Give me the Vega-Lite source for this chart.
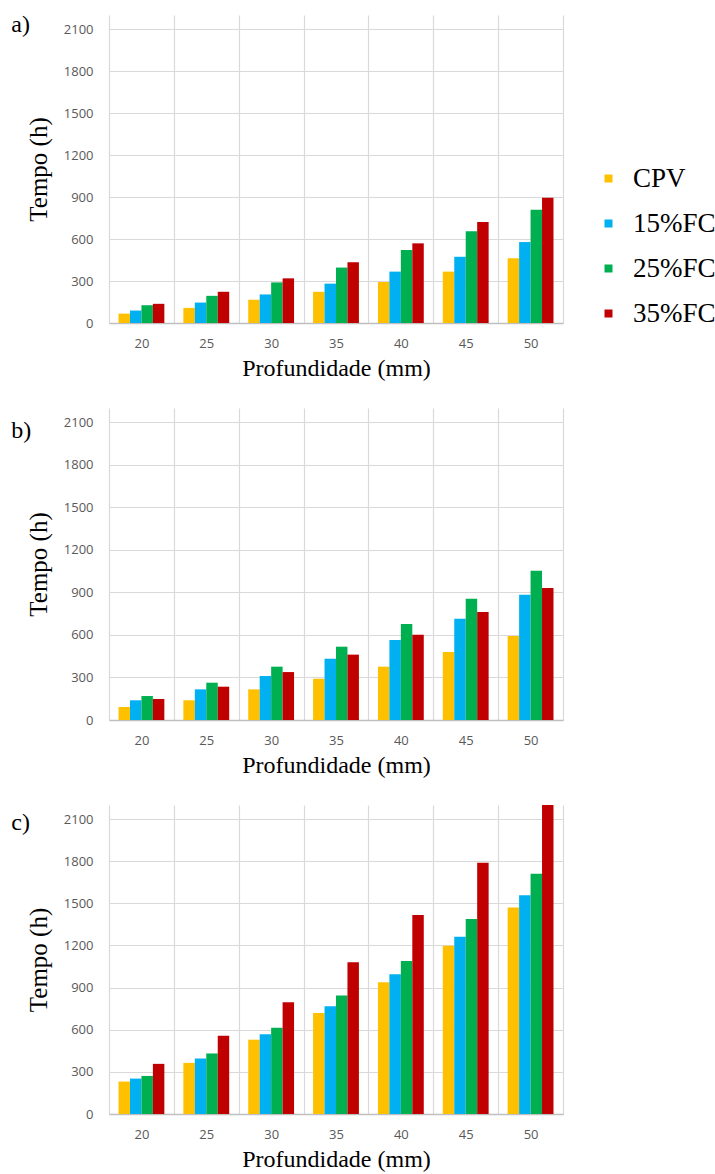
{
  "$schema": "https://vega.github.io/schema/vega-lite/v6.json",
  "background": "white",
  "padding": {"left": 11, "top": 13, "right": 160, "bottom": 5},
  "spacing": 28,
  "datasets": {
    "tempos": [
      {"painel": "a", "profundidade": 20, "serie": "CPV", "tempo": 67},
      {"painel": "a", "profundidade": 20, "serie": "15%FC", "tempo": 89},
      {"painel": "a", "profundidade": 20, "serie": "25%FC", "tempo": 127},
      {"painel": "a", "profundidade": 20, "serie": "35%FC", "tempo": 137},
      {"painel": "a", "profundidade": 25, "serie": "CPV", "tempo": 108},
      {"painel": "a", "profundidade": 25, "serie": "15%FC", "tempo": 146},
      {"painel": "a", "profundidade": 25, "serie": "25%FC", "tempo": 194},
      {"painel": "a", "profundidade": 25, "serie": "35%FC", "tempo": 223},
      {"painel": "a", "profundidade": 30, "serie": "CPV", "tempo": 166},
      {"painel": "a", "profundidade": 30, "serie": "15%FC", "tempo": 204},
      {"painel": "a", "profundidade": 30, "serie": "25%FC", "tempo": 290},
      {"painel": "a", "profundidade": 30, "serie": "35%FC", "tempo": 319},
      {"painel": "a", "profundidade": 35, "serie": "CPV", "tempo": 223},
      {"painel": "a", "profundidade": 35, "serie": "15%FC", "tempo": 281},
      {"painel": "a", "profundidade": 35, "serie": "25%FC", "tempo": 396},
      {"painel": "a", "profundidade": 35, "serie": "35%FC", "tempo": 434},
      {"painel": "a", "profundidade": 40, "serie": "CPV", "tempo": 293},
      {"painel": "a", "profundidade": 40, "serie": "15%FC", "tempo": 367},
      {"painel": "a", "profundidade": 40, "serie": "25%FC", "tempo": 521},
      {"painel": "a", "profundidade": 40, "serie": "35%FC", "tempo": 569},
      {"painel": "a", "profundidade": 45, "serie": "CPV", "tempo": 367},
      {"painel": "a", "profundidade": 45, "serie": "15%FC", "tempo": 473},
      {"painel": "a", "profundidade": 45, "serie": "25%FC", "tempo": 655},
      {"painel": "a", "profundidade": 45, "serie": "35%FC", "tempo": 722},
      {"painel": "a", "profundidade": 50, "serie": "CPV", "tempo": 463},
      {"painel": "a", "profundidade": 50, "serie": "15%FC", "tempo": 578},
      {"painel": "a", "profundidade": 50, "serie": "25%FC", "tempo": 809},
      {"painel": "a", "profundidade": 50, "serie": "35%FC", "tempo": 895},
      {"painel": "b", "profundidade": 20, "serie": "CPV", "tempo": 92},
      {"painel": "b", "profundidade": 20, "serie": "15%FC", "tempo": 139},
      {"painel": "b", "profundidade": 20, "serie": "25%FC", "tempo": 169},
      {"painel": "b", "profundidade": 20, "serie": "35%FC", "tempo": 148},
      {"painel": "b", "profundidade": 25, "serie": "CPV", "tempo": 139},
      {"painel": "b", "profundidade": 25, "serie": "15%FC", "tempo": 216},
      {"painel": "b", "profundidade": 25, "serie": "25%FC", "tempo": 263},
      {"painel": "b", "profundidade": 25, "serie": "35%FC", "tempo": 235},
      {"painel": "b", "profundidade": 30, "serie": "CPV", "tempo": 216},
      {"painel": "b", "profundidade": 30, "serie": "15%FC", "tempo": 310},
      {"painel": "b", "profundidade": 30, "serie": "25%FC", "tempo": 376},
      {"painel": "b", "profundidade": 30, "serie": "35%FC", "tempo": 338},
      {"painel": "b", "profundidade": 35, "serie": "CPV", "tempo": 291},
      {"painel": "b", "profundidade": 35, "serie": "15%FC", "tempo": 432},
      {"painel": "b", "profundidade": 35, "serie": "25%FC", "tempo": 517},
      {"painel": "b", "profundidade": 35, "serie": "35%FC", "tempo": 461},
      {"painel": "b", "profundidade": 40, "serie": "CPV", "tempo": 376},
      {"painel": "b", "profundidade": 40, "serie": "15%FC", "tempo": 564},
      {"painel": "b", "profundidade": 40, "serie": "25%FC", "tempo": 677},
      {"painel": "b", "profundidade": 40, "serie": "35%FC", "tempo": 602},
      {"painel": "b", "profundidade": 45, "serie": "CPV", "tempo": 479},
      {"painel": "b", "profundidade": 45, "serie": "15%FC", "tempo": 714},
      {"painel": "b", "profundidade": 45, "serie": "25%FC", "tempo": 855},
      {"painel": "b", "profundidade": 45, "serie": "35%FC", "tempo": 761},
      {"painel": "b", "profundidade": 50, "serie": "CPV", "tempo": 592},
      {"painel": "b", "profundidade": 50, "serie": "15%FC", "tempo": 884},
      {"painel": "b", "profundidade": 50, "serie": "25%FC", "tempo": 1053},
      {"painel": "b", "profundidade": 50, "serie": "35%FC", "tempo": 931},
      {"painel": "c", "profundidade": 20, "serie": "CPV", "tempo": 231},
      {"painel": "c", "profundidade": 20, "serie": "15%FC", "tempo": 252},
      {"painel": "c", "profundidade": 20, "serie": "25%FC", "tempo": 271},
      {"painel": "c", "profundidade": 20, "serie": "35%FC", "tempo": 357},
      {"painel": "c", "profundidade": 25, "serie": "CPV", "tempo": 364},
      {"painel": "c", "profundidade": 25, "serie": "15%FC", "tempo": 395},
      {"painel": "c", "profundidade": 25, "serie": "25%FC", "tempo": 431},
      {"painel": "c", "profundidade": 25, "serie": "35%FC", "tempo": 557},
      {"painel": "c", "profundidade": 30, "serie": "CPV", "tempo": 529},
      {"painel": "c", "profundidade": 30, "serie": "15%FC", "tempo": 567},
      {"painel": "c", "profundidade": 30, "serie": "25%FC", "tempo": 614},
      {"painel": "c", "profundidade": 30, "serie": "35%FC", "tempo": 795},
      {"painel": "c", "profundidade": 35, "serie": "CPV", "tempo": 719},
      {"painel": "c", "profundidade": 35, "serie": "15%FC", "tempo": 767},
      {"painel": "c", "profundidade": 35, "serie": "25%FC", "tempo": 843},
      {"painel": "c", "profundidade": 35, "serie": "35%FC", "tempo": 1081},
      {"painel": "c", "profundidade": 40, "serie": "CPV", "tempo": 938},
      {"painel": "c", "profundidade": 40, "serie": "15%FC", "tempo": 995},
      {"painel": "c", "profundidade": 40, "serie": "25%FC", "tempo": 1090},
      {"painel": "c", "profundidade": 40, "serie": "35%FC", "tempo": 1417},
      {"painel": "c", "profundidade": 45, "serie": "CPV", "tempo": 1198},
      {"painel": "c", "profundidade": 45, "serie": "15%FC", "tempo": 1262},
      {"painel": "c", "profundidade": 45, "serie": "25%FC", "tempo": 1388},
      {"painel": "c", "profundidade": 45, "serie": "35%FC", "tempo": 1788},
      {"painel": "c", "profundidade": 50, "serie": "CPV", "tempo": 1471},
      {"painel": "c", "profundidade": 50, "serie": "15%FC", "tempo": 1557},
      {"painel": "c", "profundidade": 50, "serie": "25%FC", "tempo": 1710},
      {"painel": "c", "profundidade": 50, "serie": "35%FC", "tempo": 2200}
    ]
  },
  "data": {"name": "tempos"},
  "config": {
    "view": {"stroke": null},
    "font": "Liberation Serif",
    "axis": {
      "labelFont": "Open Sans",
      "labelFontSize": 13,
      "labelColor": "#595959",
      "ticks": false,
      "gridColor": "#d9d9d9",
      "gridWidth": 1.2,
      "titleFont": "Liberation Serif",
      "titleFontSize": 24,
      "titleFontWeight": "normal",
      "titleColor": "#000000"
    },
    "axisX": {
      "tickBand": "extent",
      "grid": true,
      "domainColor": "#bfbfbf",
      "domainWidth": 1.5,
      "labelAngle": 0,
      "labelPadding": 14,
      "titlePadding": 6
    },
    "axisY": {
      "domain": false,
      "labelPadding": 16,
      "titlePadding": 12,
      "titleFontSize": 25,
      "format": "d"
    },
    "title": {
      "font": "Liberation Serif",
      "fontSize": 24,
      "fontWeight": "normal",
      "color": "#000000",
      "anchor": "start",
      "frame": "bounds",
      "baseline": "top",
      "offset": 0
    },
    "legend": {
      "orient": "none",
      "legendX": 486,
      "legendY": 150,
      "title": null,
      "symbolType": "square",
      "symbolSize": 64,
      "symbolStrokeWidth": 0,
      "labelFont": "Liberation Serif",
      "labelFontSize": 27,
      "labelColor": "#000000",
      "labelOffset": 11,
      "labelLimit": 300,
      "rowPadding": 17,
      "padding": 0
    }
  },
  "resolve": {"scale": {"color": "shared"}},
  "vconcat": [
    {
      "title": {"text": "a)", "dx": -15, "dy": 26},
      "transform": [{"filter": "datum.painel == 'a'"}],
      "width": 454,
      "height": 308,
      "mark": "bar",
      "encoding": {
        "x": {"field": "profundidade", "type": "ordinal", "title": "Profundidade (mm)", "scale": {"paddingInner": 0, "paddingOuter": 0}},
        "xOffset": {"field": "serie", "sort": ["CPV", "15%FC", "25%FC", "35%FC"], "scale": {"paddingInner": 0, "paddingOuter": 0.83}},
        "y": {"field": "tempo", "type": "quantitative", "title": "Tempo (h)", "scale": {"domain": [0, 2200], "nice": false}, "axis": {"values": [0, 300, 600, 900, 1200, 1500, 1800, 2100]}},
        "color": {"field": "serie", "type": "nominal", "sort": ["CPV", "15%FC", "25%FC", "35%FC"], "scale": {"domain": ["CPV", "15%FC", "25%FC", "35%FC"], "range": ["#ffc000", "#00b0f0", "#00b050", "#c00000"]}}
      }
    },
    {
      "title": {"text": "b)", "dx": -15, "dy": 39},
      "transform": [{"filter": "datum.painel == 'b'"}],
      "width": 454,
      "height": 312,
      "mark": "bar",
      "encoding": {
        "x": {"field": "profundidade", "type": "ordinal", "title": "Profundidade (mm)", "scale": {"paddingInner": 0, "paddingOuter": 0}},
        "xOffset": {"field": "serie", "sort": ["CPV", "15%FC", "25%FC", "35%FC"], "scale": {"paddingInner": 0, "paddingOuter": 0.83}},
        "y": {"field": "tempo", "type": "quantitative", "title": "Tempo (h)", "scale": {"domain": [0, 2200], "nice": false}, "axis": {"values": [0, 300, 600, 900, 1200, 1500, 1800, 2100]}},
        "color": {"field": "serie", "type": "nominal", "sort": ["CPV", "15%FC", "25%FC", "35%FC"]}
      }
    },
    {
      "title": {"text": "c)", "dx": -15, "dy": 34},
      "transform": [{"filter": "datum.painel == 'c'"}],
      "width": 454,
      "height": 309,
      "mark": "bar",
      "encoding": {
        "x": {"field": "profundidade", "type": "ordinal", "title": "Profundidade (mm)", "scale": {"paddingInner": 0, "paddingOuter": 0}},
        "xOffset": {"field": "serie", "sort": ["CPV", "15%FC", "25%FC", "35%FC"], "scale": {"paddingInner": 0, "paddingOuter": 0.83}},
        "y": {"field": "tempo", "type": "quantitative", "title": "Tempo (h)", "scale": {"domain": [0, 2200], "nice": false}, "axis": {"values": [0, 300, 600, 900, 1200, 1500, 1800, 2100]}},
        "color": {"field": "serie", "type": "nominal", "sort": ["CPV", "15%FC", "25%FC", "35%FC"]}
      }
    }
  ]
}
